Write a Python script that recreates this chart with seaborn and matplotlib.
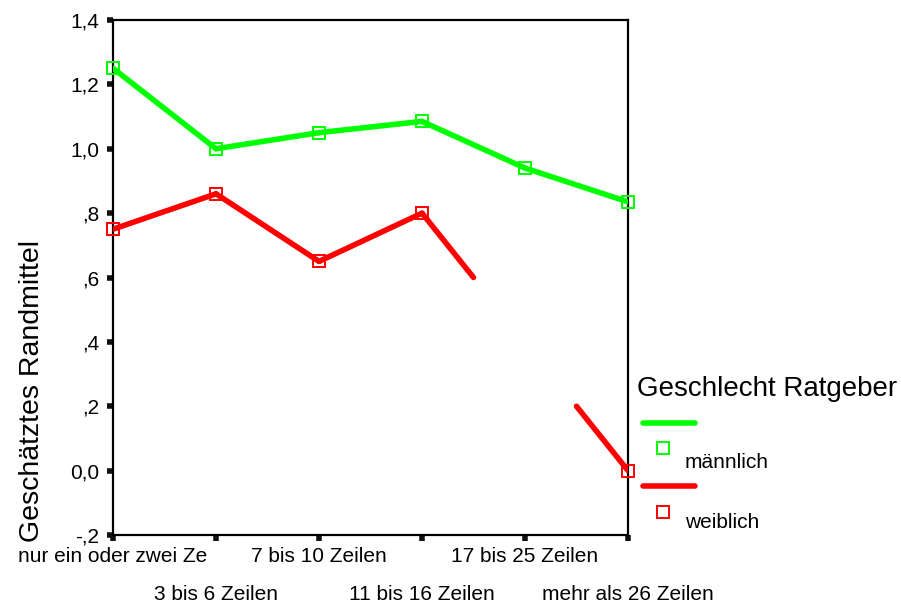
import numpy as np
import pandas as pd
import seaborn as sns
import matplotlib
matplotlib.use("Agg")
import matplotlib.pyplot as plt
from matplotlib.lines import Line2D

# data
kategorien = ["nur ein oder zwei Ze", "3 bis 6 Zeilen", "7 bis 10 Zeilen",
              "11 bis 16 Zeilen", "17 bis 25 Zeilen", "mehr als 26 Zeilen"]
maennlich = [1.25, 1.00, 1.05, 1.085, 0.94, 0.835]
weiblich = [0.75, 0.86, 0.65, 0.80, 0.40, 0.00]
# estimated mean not shown for weiblich / "17 bis 25 Zeilen" (only half segments drawn)
weiblich_versteckt = [False, False, False, False, True, False]
maennlich_versteckt = [False] * 6
y_ticks = [-0.2, 0.0, 0.2, 0.4, 0.6, 0.8, 1.0, 1.2, 1.4]
y_ticklabels = ["-,2", "0,0", ",2", ",4", ",6", ",8", "1,0", "1,2", "1,4"]
gruppen = ["männlich", "weiblich"]
farben = {"männlich": "#00ff00", "weiblich": "#ff0000"}

sns.set_style("ticks")
plt.rcParams["font.family"] = ["Liberation Sans", "DejaVu Sans"]
plt.rcParams["text.color"] = "black"
plt.rcParams["axes.labelcolor"] = "black"
plt.rcParams["xtick.color"] = "black"
plt.rcParams["ytick.color"] = "black"


def segmente(werte, versteckt, name):
    """Line pieces between neighbours; next to a hidden value only half a segment."""
    rows = []
    for i in range(len(werte) - 1):
        x0, x1, y0, y1 = i, i + 1, werte[i], werte[i + 1]
        if versteckt[i] and versteckt[i + 1]:
            continue
        if versteckt[i]:
            x0, y0 = (x0 + x1) / 2, (y0 + y1) / 2
        elif versteckt[i + 1]:
            x1, y1 = (x0 + x1) / 2, (y0 + y1) / 2
        rows.append({"x": x0, "y": y0, "geschlecht": name, "seg": f"{name}{i}"})
        rows.append({"x": x1, "y": y1, "geschlecht": name, "seg": f"{name}{i}"})
    return rows


seg_df = pd.DataFrame(segmente(maennlich, maennlich_versteckt, "männlich")
                      + segmente(weiblich, weiblich_versteckt, "weiblich"))

pkt_df = pd.DataFrame({
    "x": list(range(6)) * 2,
    "y": maennlich + weiblich,
    "geschlecht": ["männlich"] * 6 + ["weiblich"] * 6,
    "versteckt": maennlich_versteckt + weiblich_versteckt,
})
pkt_df = pkt_df[~pkt_df["versteckt"]]

fig = plt.figure(figsize=(9.01, 6.06), dpi=100)
ax = fig.add_axes([113 / 901, 1 - 535 / 606, 515 / 901, 515 / 606])

# markers first, lines on top (as in SPSS output)
for g in gruppen:
    sub = pkt_df[pkt_df["geschlecht"] == g]
    sns.lineplot(data=sub, x="x", y="y", ax=ax, linestyle="", marker="s",
                 markersize=9, markerfacecolor="none", markeredgecolor=farben[g],
                 markeredgewidth=1.4, clip_on=False, zorder=3, legend=False)

sns.lineplot(data=seg_df, x="x", y="y", hue="geschlecht", units="seg",
             estimator=None, sort=False, palette=farben, linewidth=4,
             ax=ax, legend=False, zorder=4)

ax.set_xlim(0, 5)
ax.set_ylim(-0.2, 1.4)
ax.set_yticks(y_ticks)
ax.set_yticklabels(y_ticklabels)
ax.set_xticks(range(6))
ax.set_xticklabels(kategorien)
for i, lab in enumerate(ax.get_xticklabels()):
    if i % 2 == 1:
        lab.set_y(-37 / 515)

for s in ax.spines.values():
    s.set_linewidth(1.6)
    s.set_color("black")
ax.tick_params(axis="both", length=4, width=4, color="#111111",
               labelsize=15, pad=6)
ax.tick_params(axis="x", pad=5)

ax.set_xlabel("")
ax.set_ylabel("Geschätztes Randmittel", fontsize=20.5)
ax.yaxis.set_label_coords((32 - 113) / 515, (535 - 391) / 515)
ax.yaxis.label.set_va("center")


# legend drawn in SPSS style
def fx(px):
    return px / 901


def fy(py):
    return 1 - py / 606


fig.text(fx(637), fy(389), "Geschlecht Ratgeber", fontsize=20, ha="left", va="center")
for g, ly, sy, ty in [("männlich", 423, 448, 462), ("weiblich", 486, 512, 523)]:
    fig.add_artist(Line2D([fx(643), fx(695)], [fy(ly), fy(ly)], color=farben[g],
                          linewidth=4, transform=fig.transFigure))
    fig.add_artist(Line2D([fx(663)], [fy(sy)], color=farben[g], marker="s",
                          markersize=8.5, markerfacecolor="none",
                          markeredgewidth=1.4, linestyle="", transform=fig.transFigure))
    fig.text(fx(685), fy(ty), g, fontsize=15, ha="left", va="center")

fig.savefig("out.png", dpi=100)
